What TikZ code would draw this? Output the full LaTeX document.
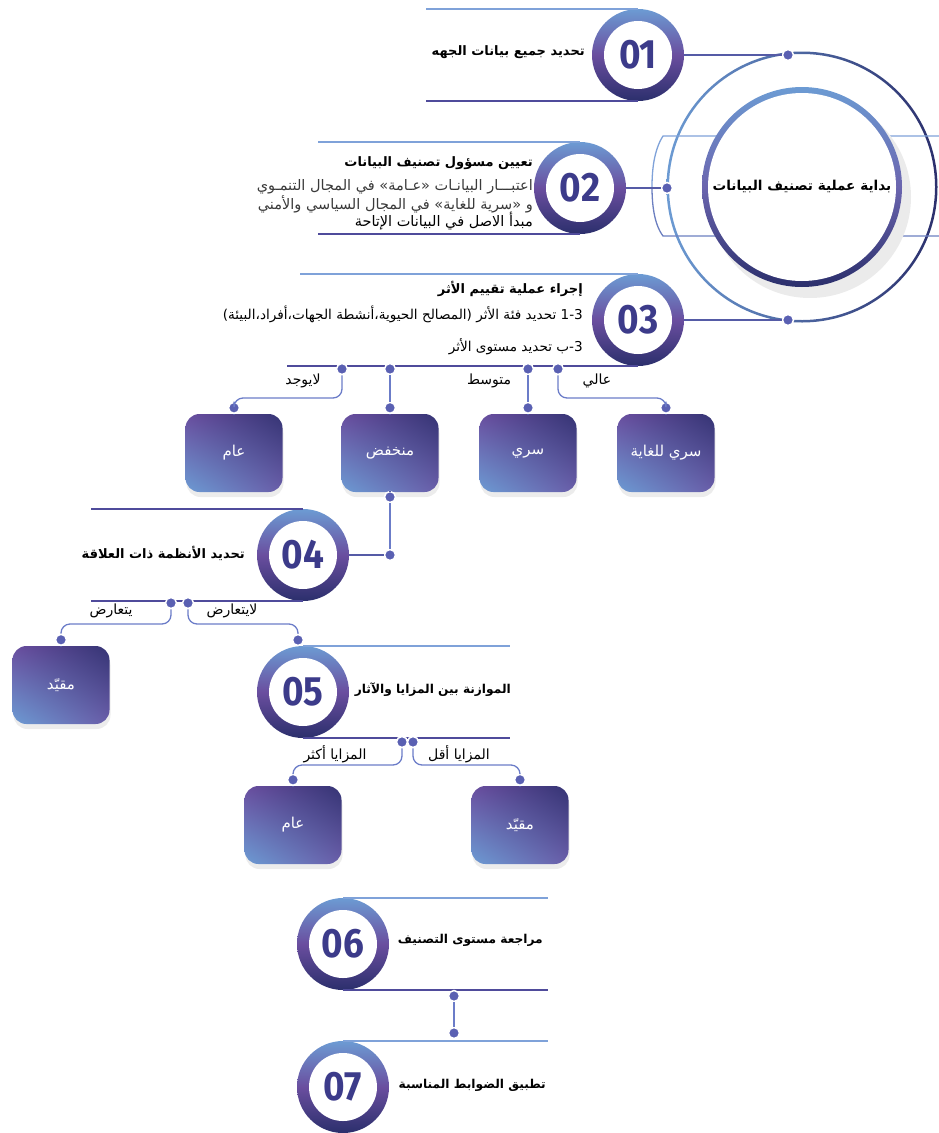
\documentclass[tikz,border=0pt]{standalone}
\usepackage{fontspec}
\TeXXeTstate=1
\newfontfamily\arabicfont[Script=Arabic]{DejaVu Sans}
\newfontfamily\numfont[FakeStretch=0.9]{Fira Sans}
\usetikzlibrary{shadows,shadings}
\newcommand{\artext}[1]{\beginR #1\endR}

\definecolor{ringblue}{HTML}{6C9BD3}
\definecolor{ringpurple}{HTML}{6A4E9F}
\definecolor{ringnavy}{HTML}{2B2F6C}
\definecolor{numnavy}{HTML}{3C3B8A}
\definecolor{linetop}{HTML}{7FA2D9}
\definecolor{linebot}{HTML}{4F4B9B}
\definecolor{knobcol}{HTML}{5A60B2}
\definecolor{branchcol}{HTML}{6B7CC8}
\definecolor{txtgray}{HTML}{3A3A3A}

\tikzset{
  stepring/.style={circle, minimum size=92, inner sep=0,
    top color=ringblue, bottom color=ringnavy, middle color=ringpurple},
  stepface/.style={circle, fill=white, minimum size=68, inner sep=0,
    font=\numfont\bfseries\fontsize{41}{41}\selectfont, text=numnavy},
  core/.style={circle, fill=white, minimum size=188, inner sep=0,
    font=\arabicfont\bfseries\fontsize{13.6}{15}\selectfont},
  knob/.style={circle, fill=knobcol, draw=white, line width=1.5pt,
    minimum size=11, inner sep=0},
  leafbox/.style={rectangle, rounded corners=14, minimum width=97, minimum height=78,
    upper left=ringpurple, upper right=ringnavy!85!ringpurple,
    lower left=ringblue, lower right=ringpurple!80!ringblue,
    text=white, font=\arabicfont\fontsize{15}{17}\selectfont,
    drop shadow={shadow xshift=1pt, shadow yshift=-5pt, opacity=0.15}},
  topline/.style={draw=linetop, line width=1.6pt},
  botline/.style={draw=linebot, line width=1.6pt},
  link/.style={draw=linebot!80!ringblue, line width=1.3pt},
  branch/.style={draw=branchcol, line width=1.3pt, rounded corners=9},
  brlabel/.style={font=\arabicfont\fontsize{14}{16}\selectfont, inner sep=0},
  steplabel/.style={anchor=east, inner sep=0, font=\arabicfont\bfseries\fontsize{13}{15}\selectfont},
  shortlabel/.style={steplabel, font=\arabicfont\bfseries\fontsize{12.2}{14}\selectfont},
  stepnote/.style={anchor=east, inner sep=0, text=txtgray, font=\arabicfont\fontsize{14.5}{16}\selectfont}
}

\begin{document}
\begin{tikzpicture}[x=1pt, y=-1pt]
  \useasboundingbox (0,0) rectangle (939,1133);

  % start circle on the right
  \coordinate (c0) at (802,187);
  \shade[left color=ringblue, right color=ringnavy, even odd rule] (c0) circle (135.5) (c0) circle (133);
  \draw[draw=linetop, line width=1.3pt] (939,136) -- (663,136) .. controls (654,150) and (652,170) .. (652,187);
  \draw[draw=linetop!60!linebot, line width=1.3pt] (652,187) .. controls (652,204) and (654,224) .. (663,236) -- (939,236);
  \fill[black!8] (810,197) circle (101);
  \shade[top color=ringblue, bottom color=ringnavy, middle color=ringpurple!70!ringblue] (c0) circle (100);
  \node[core] (start) at (c0) {\artext{بداية عملية تصنيف البيانات}};

  % step rings
  \foreach \n/\x/\y in {1/638/55, 2/580/188, 3/638/320, 4/303/555, 5/303/692, 6/343/944, 7/343/1087}{
    \node[stepring] (s\n) at (\x,\y) {};
    \node[stepface] (n\n) at (\x,\y) {0\n};
  }

  % rules above and below each step
  \draw[topline] (s1.north) -- +(-212,0);
  \draw[botline] (s1.south) -- +(-212,0);
  \draw[topline] (s2.north) -- +(-262,0);
  \draw[botline] (s2.south) -- +(-262,0);
  \draw[topline] (s3.north) -- +(-338,0);
  \draw[botline] (s3.south) -- +(-351,0);
  \draw[botline] (s4.north) -- +(-212,0);
  \draw[botline] (s4.south) -- +(-212,0);
  \draw[topline] (s5.north) -- +(207,0);
  \draw[botline] (s5.south) -- +(207,0);
  \draw[topline] (s6.north) -- +(205,0);
  \draw[botline] (s6.south) -- +(205,0);
  \draw[topline] (s7.north) -- +(205,0);

  % steps 1-3 hook onto the start circle
  \node[knob] (o1) at (788,55) {};
  \node[knob] (o2) at (667,188) {};
  \node[knob] (o3) at (788,320) {};
  \draw[link] (s1.east) -- (o1);
  \draw[link] (s2.east) -- (o2);
  \draw[link] (s3.east) -- (o3);

  % step texts
  \node[steplabel] (t1) at (585,52) {\artext{تحديد جميع بيانات الجهه}};
  \node[steplabel] (t2) at (533,163) {\artext{تعيين مسؤول تصنيف البيانات}};
  \node[stepnote] (t2a) at (533,187) {\artext{اعتبـــار البيانـات  «عـامة» في المجال التنمـوي}};
  \node[stepnote] (t2b) at (533,204) {\artext{و «سرية للغاية» في المجال السياسي والأمني}};
  \node[stepnote, text=black] (t2c) at (533,221) {\artext{مبدأ الاصل في البيانات الإتاحة}};
  \node[steplabel] (t3) at (583,289) {\artext{إجراء عملية تقييم الأثر}};
  \node[stepnote, text=black, font=\arabicfont\fontsize{13.6}{15}\selectfont] (t3a) at (583,314) {\artext{1-3 تحديد فئة الأثر (المصالح الحيوية،أنشطة الجهات،أفراد،البيئة)}};
  \node[stepnote, text=black, font=\arabicfont\fontsize{13.6}{15}\selectfont] (t3b) at (583,347) {\artext{3-ب تحديد مستوى الأثر}};
  \node[steplabel] (t4) at (245,553) {\artext{تحديد الأنظمة ذات العلاقة}};
  \node[shortlabel] (t5) at (511,690) {\artext{الموازنة بين المزايا والآثار}};
  \node[shortlabel] (t6) at (543,940) {\artext{مراجعة مستوى التصنيف}};
  \node[shortlabel] (t7) at (546,1085) {\artext{تطبيق الضوابط المناسبة}};

  % impact levels under step 3
  \node[knob] (d3a) at (342,369) {};
  \node[knob] (d3b) at (390,369) {};
  \node[knob] (d3c) at (528,369) {};
  \node[knob] (d3d) at (558,369) {};
  \node[leafbox] (b3a) at (234,453) {\artext{عام}};
  \node[leafbox] (b3b) at (390,453) {\artext{منخفض}};
  \node[leafbox] (b3c) at (528,453) {\artext{سري}};
  \node[leafbox] (b3d) at (666,453) {\artext{سري للغاية}};
  \foreach \k in {a,b,c,d}{
    \node[knob] (e3\k) at ([yshift=6pt]b3\k.north) {};
    \draw[link] (e3\k) -- (b3\k.north);
  }
  \draw[branch] (d3a) -- ++(0,29) -| (e3a);
  \draw[branch] (d3b) -- (e3b);
  \draw[branch] (d3c) -- (e3c);
  \draw[branch] (d3d) -- ++(0,29) -| (e3d);
  \node[brlabel] (l3a) at (303,381) {\artext{لايوجد}};
  \node[brlabel] (l3c) at (489,381) {\artext{متوسط}};
  \node[brlabel] (l3d) at (597,381) {\artext{عالي}};

  % low impact goes on to step 4
  \node[knob] (d4) at (390,497) {};
  \node[knob] (e4) at (390,555) {};
  \draw[link] (b3b.south) -- (d4);
  \draw[branch] (d4) -- (e4);
  \draw[link] (e4) -- (s4.east);

  % step 4 branches
  \node[knob] (d4a) at (171,603) {};
  \node[knob] (d4b) at (188,603) {};
  \node[leafbox] (b4a) at (61,685) {\artext{مقيّد}};
  \node[knob] (e4a) at ([yshift=6pt]b4a.north) {};
  \node[knob] (e4b) at (298,640) {};
  \draw[link] (e4a) -- (b4a.north);
  \draw[branch] (d4a) -- ++(0,21) -| (e4a);
  \draw[branch] (d4b) -- ++(0,21) -| (e4b);
  \node[brlabel] (l4a) at (111,611) {\artext{يتعارض}};
  \node[brlabel] (l4b) at (232,611) {\artext{لايتعارض}};

  % step 5 branches
  \node[knob] (d5a) at (402,742) {};
  \node[knob] (d5b) at (413,742) {};
  \node[leafbox] (b5a) at (293,825) {\artext{عام}};
  \node[leafbox] (b5b) at (520,825) {\artext{مقيّد}};
  \node[knob] (e5a) at ([yshift=6pt]b5a.north) {};
  \node[knob] (e5b) at ([yshift=6pt]b5b.north) {};
  \draw[link] (e5a) -- (b5a.north);
  \draw[link] (e5b) -- (b5b.north);
  \draw[branch] (d5a) -- ++(0,23) -| (e5a);
  \draw[branch] (d5b) -- ++(0,23) -| (e5b);
  \node[brlabel] (l5a) at (335,754) {\artext{المزايا أكثر}};
  \node[brlabel] (l5b) at (459,754) {\artext{المزايا أقل}};

  % step 6 to step 7
  \node[knob] (d6) at (454,996) {};
  \node[knob] (e6) at (454,1033) {};
  \draw[branch] (d6) -- (e6);
\end{tikzpicture}
\end{document}
